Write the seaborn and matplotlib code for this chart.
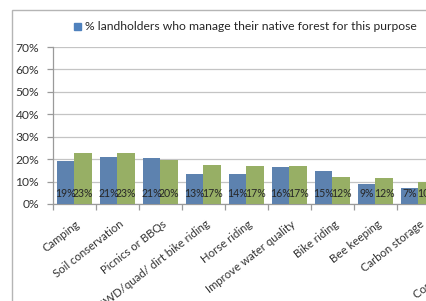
import numpy as np
import pandas as pd
import matplotlib
matplotlib.use("Agg")
import matplotlib.pyplot as plt
import matplotlib.transforms as mtrans
import seaborn as sns
from matplotlib.patches import Rectangle, Patch

categories = ["Camping", "Soil conservation", "Picnics or BBQs",
              "4WD/quad/ dirt bike riding", "Horse riding",
              "Improve water quality", "Bike riding", "Bee keeping",
              "Carbon storage", "Hunting", "Conservation of wildlife"]
manage = [19.2, 20.8, 20.6, 13.3, 13.5, 16.3, 14.8, 9.1, 7.3, 6.0, 5.0]
other = [22.8, 22.8, 19.8, 17.3, 17.0, 16.8, 12.0, 11.5, 9.8, 8.0, 7.0]
series = ["% landholders who manage their native forest for this purpose",
          "% other landholders"]

df = pd.DataFrame({
    "cat": categories * 2,
    "val": manage + other,
    "series": [series[0]] * len(categories) + [series[1]] * len(categories),
})

sns.set_style("white")
plt.rcParams["font.family"] = ["Lato", "DejaVu Sans"]

W, H = 427, 301
fig = plt.figure(figsize=(W / 100, H / 100), dpi=100)
# plot area runs past the right edge like the cropped original
ax = fig.add_axes([53 / W, 97 / H, 473 / W, 157 / H])

blue, green = "#4F81BD", "#9BBB59"
sns.barplot(data=df, x="cat", y="val", hue="series", palette=[blue, green],
            width=0.8, linewidth=0, ax=ax, legend=False, zorder=3)

ax.set_ylim(0, 70)
ax.set_xlim(-0.5, len(categories) - 0.5)
ax.set_yticks(np.arange(0, 71, 10))
ax.set_yticklabels([f"{v}%" for v in range(0, 71, 10)], fontsize=8.7, color="#333333")
ax.yaxis.grid(True, color="#c4c4c4", linewidth=0.9, zorder=0)
ax.set_axisbelow(True)
ax.set_xlabel("")
ax.set_ylabel("")

for s in ["top", "right"]:
    ax.spines[s].set_visible(False)
for s in ["left", "bottom"]:
    ax.spines[s].set_color("#9a9a9a")
    ax.spines[s].set_linewidth(0.9)

ax.tick_params(axis="y", length=4, width=0.9, color="#9a9a9a", pad=6, left=True)
ax.set_xticks(np.arange(len(categories)))
ax.set_xticklabels(categories, rotation=38, ha="right", rotation_mode="anchor",
                   fontsize=8.2, color="#333333")
ax.tick_params(axis="x", which="major", length=0, pad=10.5)
shift = mtrans.ScaledTranslation(1 / 100, 0, fig.dpi_scale_trans)
for lab in ax.get_xticklabels():
    lab.set_transform(lab.get_transform() + shift)
ax.set_xticks(np.arange(-0.5, len(categories)), minor=True)
ax.tick_params(axis="x", which="minor", length=4, width=0.9, color="#9a9a9a", bottom=True)

for cont in ax.containers:
    for bar in cont:
        h = bar.get_height()
        ax.text(bar.get_x() + bar.get_width() / 2, 4.5, f"{h:.0f}%",
                ha="center", va="center", fontsize=7.6, color="#262626", zorder=5)

leg = fig.legend(handles=[Patch(color=blue)], labels=[series[0]],
                 loc="center left", bbox_to_anchor=(74 / W, 1 - 27 / H),
                 frameon=False, fontsize=8.7, handlelength=0.55, handleheight=0.55,
                 handletextpad=0.4, borderpad=0, borderaxespad=0)

# chart area border
fig.patches.append(Rectangle((12 / W, -0.1), 1.2, 1.1 - 10 / H, transform=fig.transFigure,
                             fill=False, edgecolor="#b5b5b5", linewidth=1))

fig.savefig("out.png", dpi=100)
